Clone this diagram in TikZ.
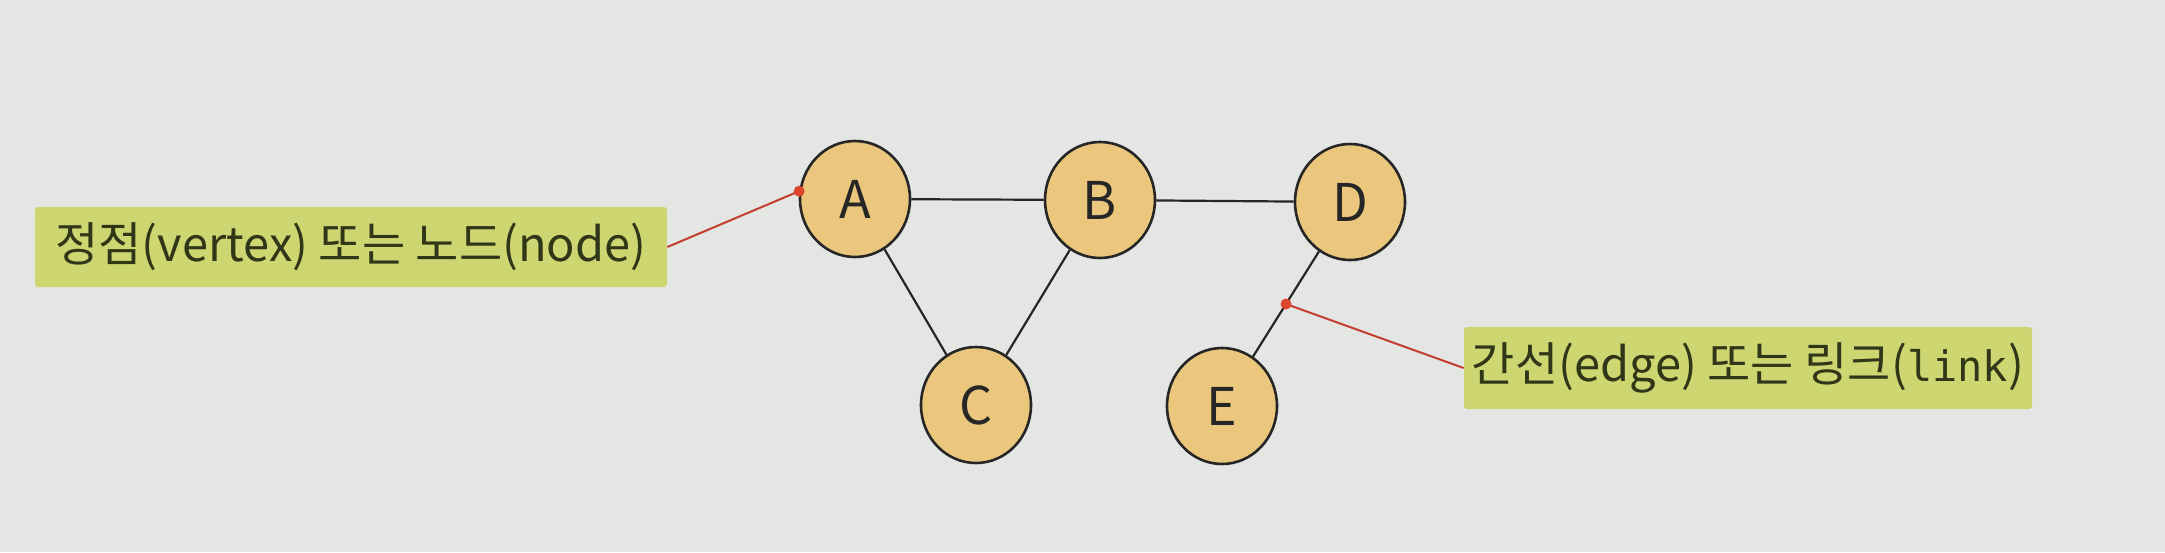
\documentclass[tikz,border=0pt]{standalone}
\usepackage{fontspec}
\usetikzlibrary{shapes.geometric}
\newfontfamily\kr{Noto Sans CJK KR}
\newfontfamily\mono{DejaVu Sans Mono}
\definecolor{bg}{RGB}{228,230,228}
\definecolor{vfill}{RGB}{234,199,124}
\definecolor{lfill}{RGB}{205,214,112}
\definecolor{ltext}{RGB}{48,54,24}
\definecolor{rline}{RGB}{196,62,48}
\definecolor{rdot}{RGB}{220,70,45}
\begin{document}
\begin{tikzpicture}[x=0.5pt,y=-0.5pt,
  vertex/.style={ellipse,draw=black!85,line width=1.3pt,fill=vfill,
    minimum width=55pt,minimum height=58pt,inner sep=0pt,
    font=\kr\fontsize{26}{30}\selectfont,text=black!85},
  label/.style={rectangle,rounded corners=1.5pt,fill=lfill,inner sep=0pt,
    font=\kr\fontsize{23.5}{27}\selectfont,text=ltext},
  link/.style={draw=black!85,line width=1.1pt},
  callout/.style={draw=rline,line width=1pt},
  rdotstyle/.style={fill=rdot,circle,inner sep=0pt,minimum size=5.5pt}]
\useasboundingbox (0,0) rectangle (2165,552);
\fill[bg] (0,0) rectangle (2165,552);
\node[vertex] (A) at (855,199) {A};
\node[vertex] (B) at (1100,200) {B};
\node[vertex] (D) at (1350,202) {D};
\node[vertex] (C) at (976,405) {C};
\node[vertex] (E) at (1222,406) {E};
\draw[link] (A) -- (B);
\draw[link] (B) -- (D);
\draw[link] (A) -- (C);
\draw[link] (B) -- (C);
\draw[link] (D) -- (E) coordinate[pos=0.5] (m);
\node[label,minimum width=316pt,minimum height=40pt] (L1) at (351,247) {정점(vertex) 또는 노드(node)};
\node[label,minimum width=284pt,minimum height=41pt] (L2) at (1748,368) {간선(edge) 또는 링크({\mono\fontsize{21}{26}\selectfont link})};
\coordinate (a1) at (A.172);
\draw[callout] (L1.east) -- (a1);
\draw[callout] (L2.west) -- (m);
\node[rdotstyle] (d1) at (a1) {};
\node[rdotstyle] (d2) at (m) {};
\end{tikzpicture}
\end{document}
